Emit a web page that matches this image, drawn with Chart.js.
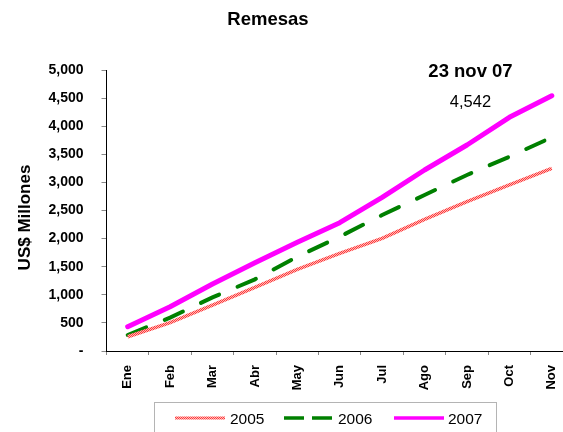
<!DOCTYPE html>
<html>
<head>
<meta charset="utf-8">
<script src="https://cdn.jsdelivr.net/npm/chart.js@4/dist/chart.umd.min.js"></script>
<style>
html,body{margin:0;padding:0;background:#fff;overflow:hidden;}
#wrap{width:563px;height:432px;overflow:hidden;position:relative;}
#c{position:absolute;left:0;top:0;}
</style>
</head>
<body>
<div id="wrap"><canvas id="c" width="600" height="432"></canvas></div>
<script>
const months = ["Ene","Feb","Mar","Abr","May","Jun","Jul","Ago","Sep","Oct","Nov"];
const s2005 = [254, 504, 818, 1133, 1454, 1738, 2005, 2343, 2657, 2954, 3250];
const s2006 = [285, 593, 955, 1275, 1678, 2034, 2420, 2776, 3132, 3457, 3802];
const s2007 = [432, 788, 1192, 1571, 1934, 2283, 2735, 3221, 3665, 4158, 4542];
const seriesNames = ["2005", "2006", "2007"];
const yTicks = [0, 500, 1000, 1500, 2000, 2500, 3000, 3500, 4000, 4500, 5000];
const titleText = "Remesas";
const yTitle = "US$ Millones";
const noteDate = "23 nov 07";
const noteValue = "4,542";

const FONT = "'Liberation Sans', Arial, sans-serif";

function makePattern() {
  const pc = document.createElement('canvas');
  pc.width = 2; pc.height = 2;
  const g = pc.getContext('2d');
  g.fillStyle = '#ffb8b8'; g.fillRect(0,0,2,2);
  g.fillStyle = '#ff3a3a'; g.fillRect(0,0,1,1); g.fillRect(1,1,1,1);
  return g.createPattern(pc, 'repeat');
}
const redPattern = makePattern();

const extras = {
  id: 'extras',
  afterDraw(chart) {
    const ctx = chart.ctx;
    ctx.save();
    ctx.fillStyle = '#000';
    ctx.textAlign = 'center';
    ctx.textBaseline = 'alphabetic';
    ctx.font = "bold 18.5px " + FONT;
    ctx.fillText(titleText, 268, 25);
    ctx.font = "bold 18.5px " + FONT;
    ctx.fillText(noteDate, 470.5, 77);
    ctx.font = "16.5px " + FONT;
    ctx.fillText(noteValue, 470.5, 107);
    // y title
    ctx.save();
    ctx.translate(30, 217.5);
    ctx.rotate(-Math.PI/2);
    ctx.font = "bold 17px " + FONT;
    ctx.fillText(yTitle, 0, 0);
    ctx.restore();
    // legend
    ctx.strokeStyle = '#b4b4b4';
    ctx.lineWidth = 1;
    ctx.strokeRect(154.5, 402.5, 342, 40);
    const ly = 418;
    const items = [
      {x1:175, x2:225, tx:230, color: redPattern, w:3, dash:[]},
      {x1:284, x2:334, tx:338, color:'#008000', w:3.5, dash:[20,8]},
      {x1:394, x2:444, tx:448, color:'#ff00ff', w:3.5, dash:[]}
    ];
    ctx.font = "15.5px " + FONT;
    ctx.textAlign = 'left';
    items.forEach((it, i) => {
      ctx.beginPath();
      ctx.setLineDash(it.dash);
      ctx.strokeStyle = it.color;
      ctx.lineWidth = it.w;
      ctx.moveTo(it.x1, ly); ctx.lineTo(it.x2, ly);
      ctx.stroke();
      ctx.setLineDash([]);
      ctx.fillStyle = '#000';
      ctx.fillText(seriesNames[i], it.tx, 424);
    });
    ctx.restore();
  }
};

new Chart(document.getElementById('c'), {
  type: 'line',
  data: {
    labels: months,
    datasets: [
      {label: seriesNames[0], data: s2005, borderColor: redPattern, borderWidth: 3.5, pointRadius: 0, tension: 0, fill: false},
      {label: seriesNames[1], data: s2006, borderColor: '#008000', borderWidth: 4, borderDash: [20,20], borderCapStyle: 'round', pointRadius: 0, tension: 0, fill: false},
      {label: seriesNames[2], data: s2007, borderColor: '#ff00ff', borderWidth: 5, borderCapStyle: 'round', borderJoinStyle: 'round', pointRadius: 0, tension: 0, fill: false}
    ]
  },
  options: {
    responsive: false,
    animation: false,
    events: [],
    layout: {padding: {top: 70, right: 27, bottom: 0, left: 0}},
    plugins: {legend: {display: false}, title: {display: false}, tooltip: {enabled: false}},
    scales: {
      x: {
        offset: true,
        grid: {offset: true, drawOnChartArea: false, drawTicks: true, tickLength: 4, color: '#888'},
        border: {display: true, color: '#000', width: 1},
        ticks: {color: '#000', font: {family: FONT, size: 13, weight: 'bold'}, maxRotation: 90, minRotation: 90, padding: 10, autoSkip: false},
        afterFit(s) { s.height = 81; }
      },
      y: {
        min: 0, max: 5000,
        afterBuildTicks(s) { s.ticks = yTicks.map(v => ({value: v})); },
        grid: {drawOnChartArea: false, drawTicks: true, tickLength: 5, color: '#888'},
        border: {display: true, color: '#000', width: 1},
        ticks: {color: '#000', font: {family: FONT, size: 14, weight: 'bold'}, padding: 18,
          callback: v => v === 0 ? '-' : v.toLocaleString('en-US')},
        afterFit(s) { s.width = 106.5; }
      }
    }
  },
  plugins: [extras]
});
</script>
</body>
</html>
